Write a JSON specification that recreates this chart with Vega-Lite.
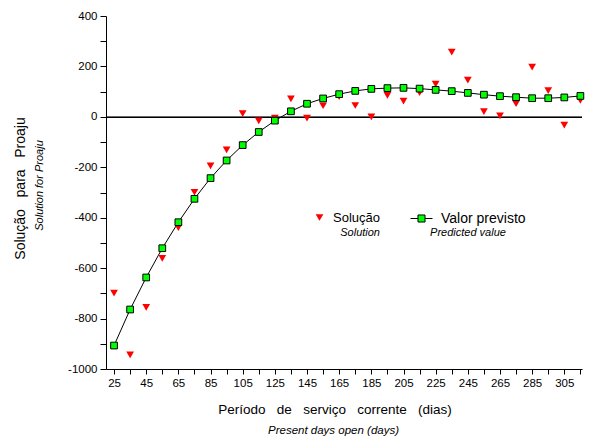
{
  "$schema": "https://vega.github.io/schema/vega-lite/v6.json",
  "width": 476,
  "height": 353,
  "autosize": {"type": "none"},
  "padding": {"left": 106, "top": 16, "right": 7, "bottom": 67},
  "background": "white",
  "config": {
    "view": {"stroke": null},
    "font": "Liberation Sans",
    "axis": {"grid": false, "domainColor": "black", "tickColor": "black", "labelColor": "black", "titleColor": "black", "labelFont": "Liberation Sans", "titleFont": "Liberation Sans", "labelFontSize": 11.5, "titleFontWeight": "normal", "domainWidth": 1, "tickWidth": 1},
    "legend": {"labelFont": "Liberation Sans", "labelColor": "black", "titleFont": "Liberation Sans", "titleColor": "black", "titleFontWeight": "normal", "titleFontStyle": "italic", "titleFontSize": 11, "titleOrient": "bottom", "labelFontSize": 13, "padding": 0}
  },
  "data": {
    "values": [
      {"day": 25, "value": -699, "series": "Solução"},
      {"day": 35, "value": -944, "series": "Solução"},
      {"day": 45, "value": -756, "series": "Solução"},
      {"day": 55, "value": -561, "series": "Solução"},
      {"day": 65, "value": -439, "series": "Solução"},
      {"day": 75, "value": -299, "series": "Solução"},
      {"day": 85, "value": -194, "series": "Solução"},
      {"day": 95, "value": -131, "series": "Solução"},
      {"day": 105, "value": 13, "series": "Solução"},
      {"day": 115, "value": -16, "series": "Solução"},
      {"day": 125, "value": -5, "series": "Solução"},
      {"day": 135, "value": 71, "series": "Solução"},
      {"day": 145, "value": -5, "series": "Solução"},
      {"day": 155, "value": 44, "series": "Solução"},
      {"day": 165, "value": 80, "series": "Solução"},
      {"day": 175, "value": 45, "series": "Solução"},
      {"day": 185, "value": 0, "series": "Solução"},
      {"day": 195, "value": 85, "series": "Solução"},
      {"day": 205, "value": 62, "series": "Solução"},
      {"day": 215, "value": 96, "series": "Solução"},
      {"day": 225, "value": 130, "series": "Solução"},
      {"day": 235, "value": 257, "series": "Solução"},
      {"day": 245, "value": 146, "series": "Solução"},
      {"day": 255, "value": 21, "series": "Solução"},
      {"day": 265, "value": 4, "series": "Solução"},
      {"day": 275, "value": 52, "series": "Solução"},
      {"day": 285, "value": 197, "series": "Solução"},
      {"day": 295, "value": 104, "series": "Solução"},
      {"day": 305, "value": -33, "series": "Solução"},
      {"day": 315, "value": 65, "series": "Solução"},
      {"day": 25, "value": -907, "series": "Valor previsto"},
      {"day": 35, "value": -764, "series": "Valor previsto"},
      {"day": 45, "value": -637, "series": "Valor previsto"},
      {"day": 55, "value": -521, "series": "Valor previsto"},
      {"day": 65, "value": -418, "series": "Valor previsto"},
      {"day": 75, "value": -325, "series": "Valor previsto"},
      {"day": 85, "value": -243, "series": "Valor previsto"},
      {"day": 95, "value": -173, "series": "Valor previsto"},
      {"day": 105, "value": -112, "series": "Valor previsto"},
      {"day": 115, "value": -60, "series": "Valor previsto"},
      {"day": 125, "value": -15, "series": "Valor previsto"},
      {"day": 135, "value": 22, "series": "Valor previsto"},
      {"day": 145, "value": 52, "series": "Valor previsto"},
      {"day": 155, "value": 73, "series": "Valor previsto"},
      {"day": 165, "value": 90, "series": "Valor previsto"},
      {"day": 175, "value": 103, "series": "Valor previsto"},
      {"day": 185, "value": 111, "series": "Valor previsto"},
      {"day": 195, "value": 114, "series": "Valor previsto"},
      {"day": 205, "value": 115, "series": "Valor previsto"},
      {"day": 215, "value": 112, "series": "Valor previsto"},
      {"day": 225, "value": 107, "series": "Valor previsto"},
      {"day": 235, "value": 102, "series": "Valor previsto"},
      {"day": 245, "value": 95, "series": "Valor previsto"},
      {"day": 255, "value": 88, "series": "Valor previsto"},
      {"day": 265, "value": 82, "series": "Valor previsto"},
      {"day": 275, "value": 78, "series": "Valor previsto"},
      {"day": 285, "value": 74, "series": "Valor previsto"},
      {"day": 295, "value": 74, "series": "Valor previsto"},
      {"day": 305, "value": 77, "series": "Valor previsto"},
      {"day": 315, "value": 83, "series": "Valor previsto"}
    ]
  },
  "resolve": {"axis": {"x": "independent", "y": "independent"}, "scale": {"color": "independent"}},
  "layer": [
    {
      "mark": {"type": "rule", "color": "black", "strokeWidth": 1, "yOffset": 0.64},
      "encoding": {
        "y": {"datum": 0, "type": "quantitative", "scale": {"domain": [-1000, 400], "nice": false, "zero": false}, "axis": null}
      }
    },
    {
      "transform": [{"filter": "datum.series === 'Valor previsto'"}],
      "mark": {"type": "line", "color": "black", "strokeWidth": 1},
      "encoding": {
        "x": {"field": "day", "type": "quantitative", "scale": {"domain": [20, 316], "nice": false, "zero": false},
          "axis": {"orient": "bottom", "title": "Present days open (days)", "labels": false, "ticks": false, "domain": false,
            "titleFontStyle": "italic", "titleFontSize": 11.5, "titleX": 227, "titleY": 61, "titleBaseline": "middle", "titleAlign": "center"}},
        "y": {"field": "value", "type": "quantitative", "scale": {"domain": [-1000, 400], "nice": false, "zero": false},
          "axis": {"orient": "left", "title": "Solution for Proaju", "labels": false, "ticks": false, "domain": false,
            "titleFontStyle": "italic", "titleFontSize": 11, "titleX": -67, "titleY": 169, "titleBaseline": "middle", "titleAlign": "center", "titleAngle": -90}}
      }
    },
    {
      "transform": [{"filter": "datum.series === 'Solução'"}],
      "mark": {"type": "point", "shape": "triangle-down", "filled": true, "size": 60, "opacity": 1},
      "encoding": {
        "x": {"field": "day", "type": "quantitative",
          "axis": {"orient": "bottom", "title": "Período\u00a0\u00a0\u00a0de\u00a0\u00a0\u00a0serviço\u00a0\u00a0\u00a0corrente\u00a0\u00a0\u00a0(dias)",
            "values": [25,35,45,55,65,75,85,95,105,115,125,135,145,155,165,175,185,195,205,215,225,235,245,255,265,275,285,295,305,315],
            "labelExpr": "(datum.value - 25) % 20 == 0 ? '' + datum.value : ''",
            "labelOverlap": false, "labelFlush": false, "tickSize": 5, "labelPadding": 3,
            "encode": {"ticks": {"y": {"value": -5}}},
            "titleFontSize": 13.5, "titleX": 228.5, "titleY": 40, "titleBaseline": "middle", "titleAlign": "center"}},
        "y": {"field": "value", "type": "quantitative",
          "axis": {"orient": "left", "title": "Solução\u00a0\u00a0\u00a0para\u00a0\u00a0\u00a0Proaju",
            "values": [-1000,-900,-800,-700,-600,-500,-400,-300,-200,-100,0,100,200,300,400],
            "labelExpr": "datum.value % 200 == 0 ? '' + datum.value : ''",
            "labelOverlap": false, "labelFlush": false, "tickSize": 6, "labelPadding": 3,
            "titleFontSize": 14, "titleX": -86, "titleY": 172, "titleBaseline": "middle", "titleAlign": "center", "titleAngle": -90}},
        "color": {"field": "series", "type": "nominal",
          "scale": {"domain": ["Solução"], "range": ["#ff0000"]},
          "legend": {"orient": "none", "legendX": 207, "legendY": 195, "title": "Solution", "titleAnchor": "end", "titlePadding": 2,
            "symbolType": "triangle-down", "symbolSize": 60, "symbolStrokeWidth": 0, "labelOffset": 7}}
      }
    },
    {
      "transform": [{"filter": "datum.series === 'Valor previsto'"}],
      "mark": {"type": "point", "shape": "square", "filled": true, "size": 45, "opacity": 1, "stroke": "black", "strokeWidth": 1},
      "encoding": {
        "x": {"field": "day", "type": "quantitative", "axis": null},
        "y": {"field": "value", "type": "quantitative", "axis": null},
        "color": {"field": "series", "type": "nominal",
          "scale": {"domain": ["Valor previsto"], "range": ["#00ff00"]},
          "legend": {"orient": "none", "legendX": 304, "legendY": 191, "title": "Predicted value", "titleAnchor": "middle", "titlePadding": 1,
            "symbolType": "M-1,0H-0.32M0.32,0H1M-0.32,-0.32H0.32V0.32H-0.32Z", "symbolSize": 484, "symbolStrokeColor": "black", "symbolStrokeWidth": 1, "labelOffset": 8, "labelFontSize": 14}}
      }
    }
  ]
}
